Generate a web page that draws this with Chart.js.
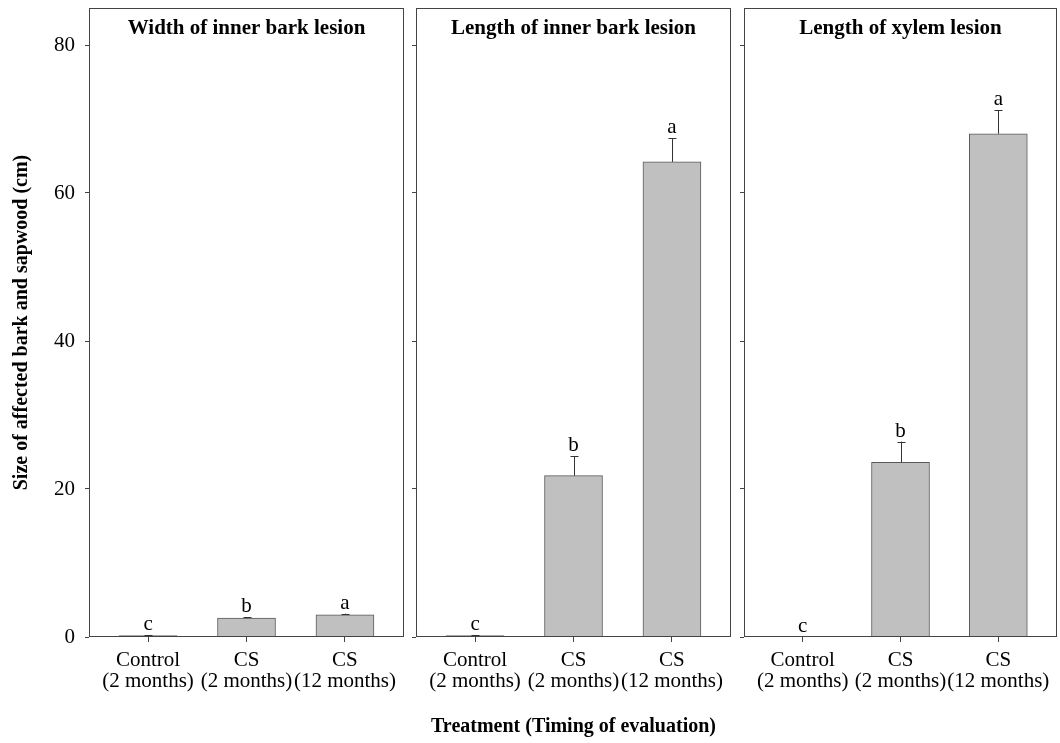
<!DOCTYPE html>
<html>
<head>
<meta charset="utf-8">
<script src="https://cdn.jsdelivr.net/npm/chart.js@4/dist/chart.umd.min.js"></script>
<style>
  html, body { margin: 0; padding: 0; background: #fff; overflow: hidden; }
  .wrap { position: relative; width: 1060px; height: 743px; }
  canvas { position: absolute; top: 0; }
</style>
</head>
<body>
<div class="wrap">
  <canvas id="p1" width="410" height="743" style="left:0px"></canvas>
  <canvas id="p2" width="331" height="743" style="left:406px"></canvas>
  <canvas id="p3" width="326" height="743" style="left:734px"></canvas>
</div>
<script>
const categories = [['Control', '(2 months)'], ['CS', '(2 months)'], ['CS', '(12 months)']];
const yTicks = [0, 20, 40, 60, 80];

const widthInnerBark = [0.2, 2.55, 3.0];
const widthInnerBarkSE = [0.05, 0.12, 0.15];
const widthInnerBarkLetters = ['c', 'b', 'a'];

const lengthInnerBark = [0.2, 21.8, 64.2];
const lengthInnerBarkSE = [0.05, 2.6, 3.2];
const lengthInnerBarkLetters = ['c', 'b', 'a'];

const lengthXylem = [0, 23.6, 68.0];
const lengthXylemSE = [0, 2.8, 3.2];
const lengthXylemLetters = ['c', 'b', 'a'];

const SERIF = '"Liberation Serif", "Times New Roman", serif';
const INK = '#444';

// frame, panel title, error bars and significance letters
const decorate = {
  id: 'decorate',
  afterDatasetsDraw(chart, args, opts) {
    const {ctx, chartArea: a} = chart;
    const y = chart.scales.y;
    const meta = chart.getDatasetMeta(0);
    ctx.save();
    ctx.strokeStyle = '#333';
    ctx.lineWidth = 1;
    meta.data.forEach((bar, i) => {
      const v = opts.values[i];
      const top = y.getPixelForValue(v + opts.se[i]);
      const x = Math.round(bar.x) + 0.5;
      if (opts.se[i] > 0) {
        ctx.beginPath();
        ctx.moveTo(x, bar.y);
        ctx.lineTo(x, top);
        ctx.moveTo(x - 4, Math.round(top) + 0.5);
        ctx.lineTo(x + 4, Math.round(top) + 0.5);
        ctx.stroke();
      }
      ctx.fillStyle = '#000';
      ctx.font = '21px ' + SERIF;
      ctx.textAlign = 'center';
      ctx.textBaseline = 'alphabetic';
      ctx.fillText(opts.letters[i], bar.x, top - 5);
    });
    ctx.strokeStyle = INK;
    ctx.strokeRect(Math.round(a.left) + 0.5, Math.round(a.top) + 0.5,
      Math.round(a.right - a.left) - 1, Math.round(a.bottom - a.top) - 1);
    ctx.fillStyle = '#000';
    ctx.font = 'bold 21px ' + SERIF;
    ctx.textAlign = 'center';
    ctx.textBaseline = 'middle';
    ctx.fillText(opts.title, (a.left + a.right) / 2, a.top + 21);
    ctx.restore();
  }
};

function makePanel(id, title, values, se, letters, o) {
  new Chart(document.getElementById(id), {
    type: 'bar',
    data: {
      datasets: [{
        data: values.map((v, i) => ({x: i, y: v})),
        backgroundColor: '#c0c0c0',
        borderColor: '#5a5a5a',
        borderWidth: 1,
        barThickness: 58
      }]
    },
    options: {
      responsive: false,
      animation: false,
      layout: { padding: { top: 8, right: o.right, left: 0, bottom: 0 } },
      plugins: {
        legend: { display: false },
        tooltip: { enabled: false },
        decorate: { title, values, se, letters }
      },
      scales: {
        x: {
          type: 'linear',
          min: -0.6,
          max: 2.6,
          offset: false,
          afterBuildTicks: s => { s.ticks = categories.map((c, i) => ({value: i})); },
          afterFit: s => { s.height = 106; s.paddingLeft = 0; s.paddingRight = 0; },
          grid: { offset: false, drawOnChartArea: false, drawTicks: true, tickLength: 5, color: INK },
          border: { display: false },
          ticks: {
            callback: (v, i) => categories[i],
            maxRotation: 0,
            autoSkip: false,
            padding: 8,
            color: '#000',
            font: { family: SERIF, size: 21, lineHeight: 1.0 }
          },
          title: {
            display: !!o.xTitle,
            text: o.xTitle || '',
            color: '#000',
            padding: { top: 0, bottom: 4 },
            font: { family: SERIF, size: 20, weight: 'bold' }
          }
        },
        y: {
          min: 0,
          max: 85,
          afterBuildTicks: s => { s.ticks = yTicks.map(v => ({value: v})); },
          afterFit: s => { s.width = o.yWidth; s.paddingTop = 0; s.paddingBottom = 0; },
          grid: { drawOnChartArea: false, drawTicks: true, tickLength: 4, color: INK },
          border: { display: false },
          ticks: {
            display: o.yLabels,
            padding: 10,
            color: '#000',
            font: { family: SERIF, size: 21 }
          },
          title: {
            display: !!o.yTitle,
            text: o.yTitle || '',
            color: '#000',
            padding: { top: 10, bottom: 0 },
            font: { family: SERIF, size: 20, weight: 'bold' }
          }
        }
      }
    },
    plugins: [decorate]
  });
}

makePanel('p1', 'Width of inner bark lesion', widthInnerBark, widthInnerBarkSE, widthInnerBarkLetters,
  { right: 6, yWidth: 89, yLabels: true, yTitle: 'Size of affected bark and sapwood (cm)' });
makePanel('p2', 'Length of inner bark lesion', lengthInnerBark, lengthInnerBarkSE, lengthInnerBarkLetters,
  { right: 6, yWidth: 10, yLabels: false, xTitle: 'Treatment (Timing of evaluation)' });
makePanel('p3', 'Length of xylem lesion', lengthXylem, lengthXylemSE, lengthXylemLetters,
  { right: 3, yWidth: 10, yLabels: false });
</script>
</body>
</html>
